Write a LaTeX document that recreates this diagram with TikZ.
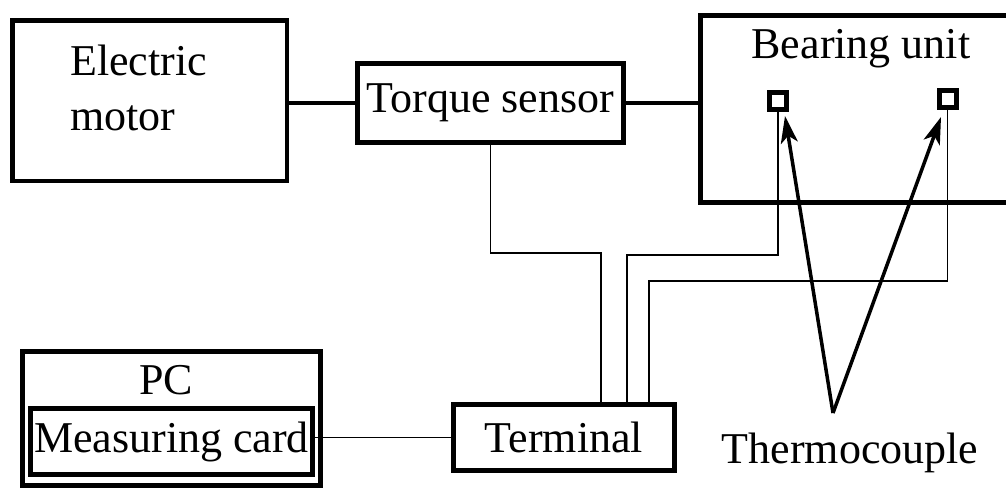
\documentclass[tikz,border=0pt]{standalone}
\usepackage{fontspec}
\setmainfont{Liberation Serif}
\usetikzlibrary{arrows.meta}

\begin{document}
\begin{tikzpicture}[x=1pt,y=-1pt,>={Stealth[length=27pt,width=17pt,inset=7pt]},
  box/.style={draw,line width=4.5pt,rectangle,inner sep=0pt,font=\fontsize{44}{55}\selectfont},
  text node/.style={inner sep=0pt,font=\fontsize{44}{55}\selectfont},
  probe/.style={draw,line width=5pt,rectangle,minimum size=17pt,inner sep=0pt},
  wire/.style={line width=1.5pt},
  shaft/.style={line width=4.5pt},
  pointer/.style={->,line width=3.5pt}]
  \useasboundingbox (0,0) rectangle (1006,490);

  % mechanical chain
  \node[box,minimum width=274.5pt,minimum height=160.5pt] (motor) at (149.5,100.5) {};
  \node[text node,align=left,anchor=base west] (motortext) at (70,130) {Electric\\motor};
  \node[box,minimum width=266pt,minimum height=79pt] (torque) at (490.5,103) {Torque sensor};
  \node[box,minimum width=317pt,minimum height=187pt] (bearing) at (859,109) {};
  \node[text node,anchor=base] (bearingtext) at (861,58) {Bearing unit};
  \node[probe] (probeL) at (778,100.5) {};
  \node[probe] (probeR) at (947.5,99) {};

  % measuring chain
  \node[box,minimum width=298pt,minimum height=134pt] (pc) at (171.5,418.5) {};
  \node[text node,anchor=base] (pctext) at (166,394) {PC};
  \node[box,minimum width=282pt,minimum height=66pt] (card) at (171.5,441.5) {Measuring card};
  \node[box,minimum width=221pt,minimum height=66pt] (term) at (564,437.5) {Terminal};
  \node[text node,anchor=base] (thermo) at (850,463) {Thermocouple};

  \coordinate (j1) at (601,253);
  \coordinate (j2) at (627,255);
  \coordinate (j3) at (649,281);
  \coordinate (tc) at (833,413);
  \coordinate (tipL) at (785,116);
  \coordinate (tipR) at (941,117);

  \draw[shaft] (motor.east |- torque.west) -- (torque.west);
  \draw[shaft] (torque.east) -- (torque.east -| bearing.west);

  \draw[wire] (torque.south) |- (j1) -- (j1 |- term.north);
  \draw[wire] (probeL.south) |- (j2) -- (j2 |- term.north);
  \draw[wire] (probeR.south) |- (j3) -- (j3 |- term.north);
  \draw[wire] (card.east |- term.west) -- (term.west);

  \draw[pointer] (tc) -- (tipL);
  \draw[pointer] (tc) -- (tipR);
\end{tikzpicture}
\end{document}
